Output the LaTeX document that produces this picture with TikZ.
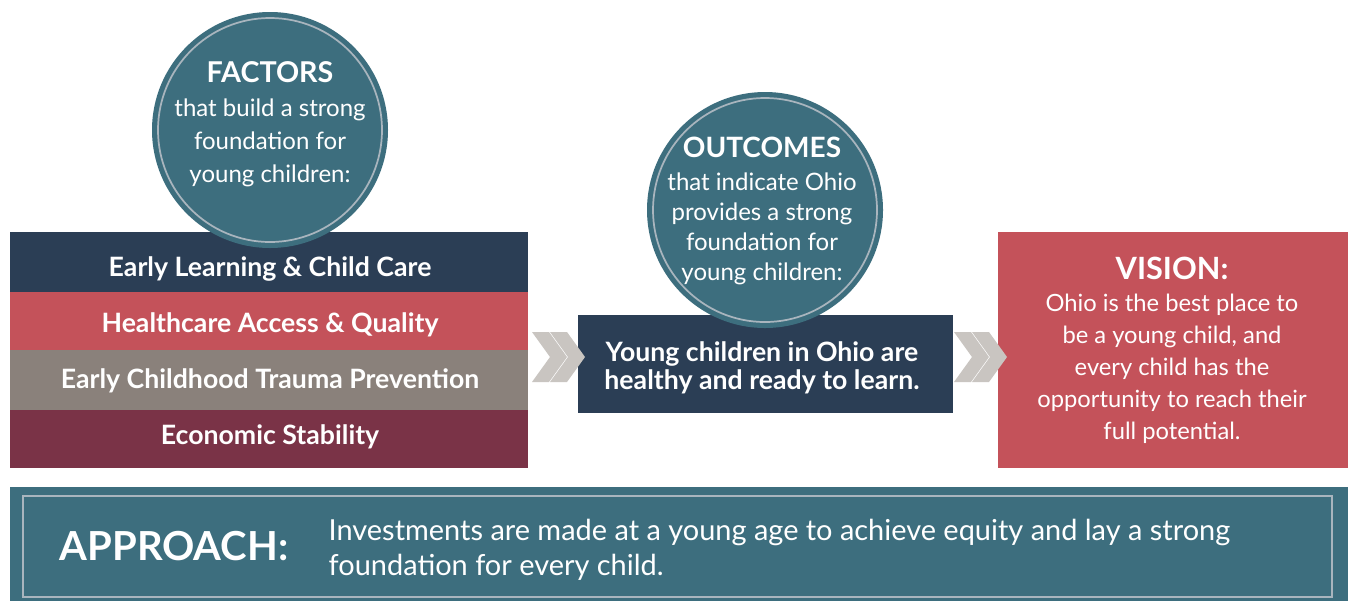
\documentclass[tikz,border=0pt]{standalone}
\usepackage{fontspec}
\setmainfont{Lato}
\definecolor{navy}{HTML}{2B3E55}
\definecolor{rosered}{HTML}{C4525A}
\definecolor{warmgray}{HTML}{8A817B}
\definecolor{maroon}{HTML}{7A3347}
\definecolor{teal}{HTML}{3D6E7E}
\definecolor{chev}{HTML}{C9C5C1}
\definecolor{ring}{HTML}{A9B5BE}
\tikzset{
  bar/.style={fill=#1, draw=none},
  rowlabel/.style={text=white, font=\bfseries\fontsize{20}{24}\selectfont, anchor=center},
  circtext/.style={text=white, align=center, anchor=center},
  chevron/.style={fill=chev, draw=none},
}
\begin{document}
\begin{tikzpicture}[x=0.75pt,y=-0.75pt]
\useasboundingbox (0,0) rectangle (1348,601);
\fill[white] (0,0) rectangle (1348,601);

% factor rows
\path[bar=navy] (10,232) rectangle (528,292);
\path[bar=rosered] (10,292) rectangle (528,350);
\path[bar=warmgray] (10,350) rectangle (528,410);
\path[bar=maroon] (10,410) rectangle (528,468);
\node[rowlabel] (r1) at (270,269) {Early Learning \& Child Care};
\node[rowlabel] (r2) at (270,325) {Healthcare Access \& Quality};
\node[rowlabel] (r3) at (270,381) {Early Childhood Trauma Prevention};
\node[rowlabel] (r4) at (270,437) {Economic Stability};

% factors circle
\fill[teal] (270,130) circle[radius=118];
\draw[ring, line width=1.3pt] (270,130) circle[radius=112];
\node[circtext, font=\fontsize{18}{24.75}\selectfont] (fac) at (270,124)
  {{\bfseries\fontsize{21.5}{24.75}\selectfont FACTORS}\\[1pt]
  that build a strong\\
  foundation for\\
  young children:};

% outcomes box and circle
\path[bar=navy] (578,315) rectangle (953,413);
\fill[teal] (765,210) circle[radius=118];
\draw[ring, line width=1.3pt] (765,210) circle[radius=112];
\node[circtext, font=\fontsize{18}{22.5}\selectfont] (outc) at (762,211)
  {{\bfseries\fontsize{21}{22.5}\selectfont OUTCOMES}\\[2pt]
  that indicate Ohio\\
  provides a strong\\
  foundation for\\
  young children:};
\node[circtext, font=\bfseries\fontsize{20}{21}\selectfont] (ob) at (762,368)
  {Young children in Ohio are\\healthy and ready to learn.};

% vision box
\path[bar=rosered] (998,232) rectangle (1348,468);
\node[circtext, font=\fontsize{17.8}{24}\selectfont] (vis) at (1172,350)
  {{\bfseries\fontsize{23}{24}\selectfont VISION:}\\[0pt]
  Ohio is the best place to\\
  be a young child, and\\
  every child has the\\
  opportunity to reach their\\
  full potential.};

% chevrons
\foreach \dx in {0,422}{
  \foreach \s in {0,18}{
    \path[chevron] (532+\dx+\s,332) -- (549+\dx+\s,332) -- (567+\dx+\s,357)
      -- (549+\dx+\s,382) -- (532+\dx+\s,382) -- (550+\dx+\s,357) -- cycle;
  }
}

% approach
\fill[teal] (10,487) rectangle (1348,601);
\draw[ring, line width=1.3pt] (23,496) rectangle (1332,597);
\node[text=white, font=\bfseries\fontsize{30}{32}\selectfont, anchor=center] (ap) at (174,546) {APPROACH:};
\node[text=white, align=left, anchor=west, font=\fontsize{21.7}{26.25}\selectfont] (apt) at (324,550)
  {Investments are made at a young age to achieve equity and lay a strong\\foundation for every child.};
\end{tikzpicture}
\end{document}
